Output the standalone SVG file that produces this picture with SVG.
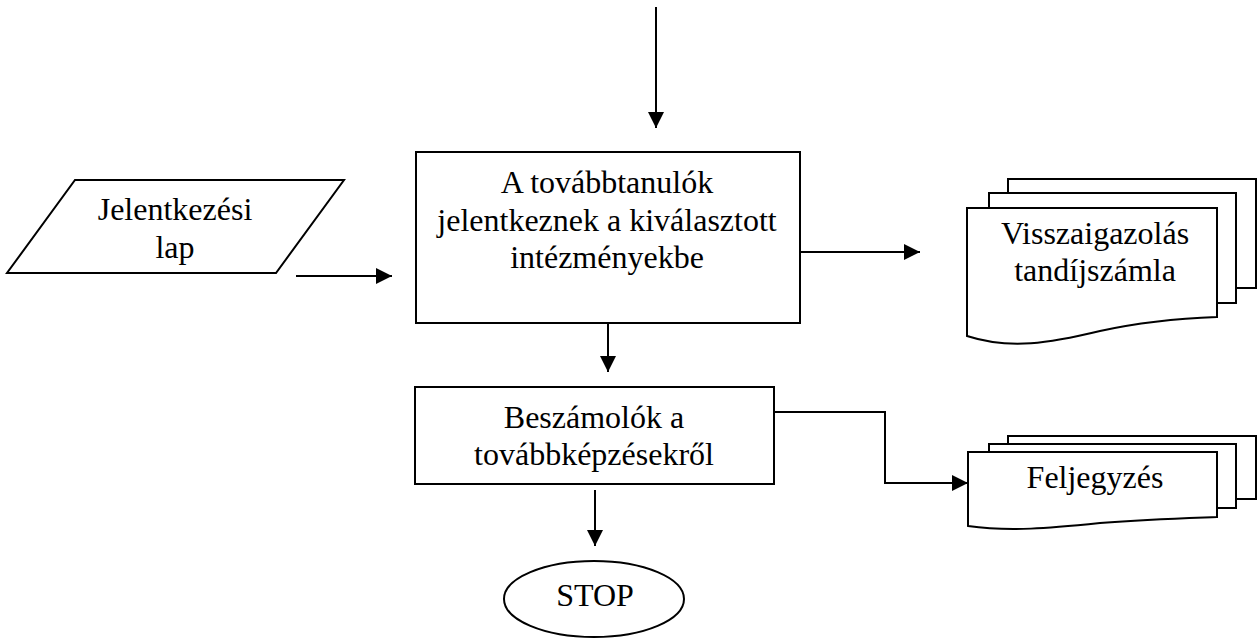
<svg xmlns="http://www.w3.org/2000/svg" width="1257" height="644" viewBox="0 0 1257 644">
<style>
.s{fill:#fff;stroke:#000;stroke-width:2}
.b{fill:none;stroke:#000;stroke-width:2}
.t{font-family:"Liberation Serif","Times New Roman",serif;font-size:32px;fill:#000;text-anchor:middle}
.c{fill:none;stroke:#000;stroke-width:2}
</style>
<defs>
<marker id="ah" markerUnits="userSpaceOnUse" markerWidth="16" markerHeight="16" refX="16" refY="8" orient="auto" viewBox="0 0 16 16">
<path d="M0,0 L16,8 L0,16 z" fill="#000"/>
</marker>
</defs>
<rect width="1257" height="644" fill="#fff"/>
<g id="connectors">
<line class="c" x1="656" y1="7" x2="656" y2="128" marker-end="url(#ah)"/>
<line class="c" x1="296" y1="276" x2="392" y2="276" marker-end="url(#ah)"/>
<line class="c" x1="800" y1="252" x2="920" y2="252" marker-end="url(#ah)"/>
<line class="c" x1="608" y1="323" x2="608" y2="372" marker-end="url(#ah)"/>
<polyline class="c" points="774,412 885,412 885,483 968,483" marker-end="url(#ah)"/>
<line class="c" x1="595" y1="490" x2="595" y2="546" marker-end="url(#ah)"/>
</g>
<g id="input">
<polygon class="s" points="75,180 344,180 276,273 7,273"/>
<text class="t" x="175" y="220">Jelentkezési</text>
<text class="t" x="175" y="258">lap</text>
</g>
<g id="process1">
<rect class="s" x="416" y="152" width="384" height="171"/>
<text class="t" x="607" y="193">A továbbtanulók</text>
<text class="t" x="607" y="231">jelentkeznek a kiválasztott</text>
<text class="t" x="607" y="268">intézményekbe</text>
</g>
<g id="doc1">
<path class="b" d="M1008,193 V179 H1256 V288 H1236"/>
<path class="b" d="M989,208 V193 H1236 V303 H1217"/>
<path class="s" d="M967,208 H1217 V317 C1190,318 1150,320 1100,331 C1050,343 1010,350 967,336 Z"/>
<text class="t" x="1095" y="244">Visszaigazolás</text>
<text class="t" x="1095" y="281">tandíjszámla</text>
</g>
<g id="process2">
<rect class="s" x="415" y="387" width="359" height="97"/>
<text class="t" x="594" y="428">Beszámolók a</text>
<text class="t" x="594" y="465">továbbképzésekről</text>
</g>
<g id="doc2">
<path class="b" d="M1008,444 V436 H1256 V499 H1236"/>
<path class="b" d="M989,452 V444 H1236 V508 H1217"/>
<path class="s" d="M968,452 H1217 V517 C1190,518 1150,519 1100,523 C1050,528 1010,532 968,526 Z"/>
<text class="t" x="1095" y="488">Feljegyzés</text>
</g>
<g id="stop">
<ellipse class="s" cx="594" cy="599" rx="90" ry="38"/>
<text class="t" x="595" y="606">STOP</text>
</g>
</svg>
